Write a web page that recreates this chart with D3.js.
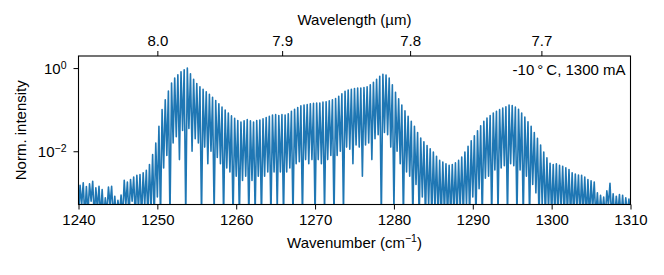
<!DOCTYPE html>
<html><head><meta charset="utf-8">
<script src="https://cdn.jsdelivr.net/npm/d3@7/dist/d3.min.js"></script>
<style>
body{margin:0;background:#fff}
text{font-family:"Liberation Sans",Arial,Helvetica,sans-serif;fill:#000}
</style>
</head><body>
<svg id="chart" width="664" height="275"></svg>
<script>
// ---- data ----
// wavenumber grid: minima between modes at 1240 + 0.4*i, mode peaks half way between
const gridStart = 1240.0;
const modeStep = 0.4;
// log10 of normalized intensity at each mode peak (1240.2, 1240.6, ...)
const peakLog = [
 -2.82,-2.76,-2.85,-2.78,-2.72,-2.88,-2.84,-2.92,-3.12,-2.86,
 -2.84,-3.08,-3.18,-3.05,-2.70,-2.74,-2.68,-2.62,-2.58,-2.56,
 -2.52,-2.46,-2.32,-2.08,-1.80,-1.40,-1.00,-0.76,-0.55,-0.36,
 -0.24,-0.16,-0.09,-0.04, 0.00,-0.14,-0.27,-0.37,-0.45,-0.51,
 -0.57,-0.63,-0.70,-0.78,-0.86,-0.94,-1.01,-1.08,-1.15,-1.21,
 -1.26,-1.30,-1.27,-1.24,-1.27,-1.30,-1.26,-1.25,-1.22,-1.19,
 -1.16,-1.13,-1.12,-1.14,-1.12,-1.13,-1.10,-1.04,-0.99,-0.95,
 -0.91,-0.89,-0.88,-0.86,-0.85,-0.84,-0.84,-0.82,-0.81,-0.79,
 -0.76,-0.73,-0.68,-0.62,-0.56,-0.53,-0.51,-0.49,-0.48,-0.48,
 -0.47,-0.45,-0.40,-0.34,-0.27,-0.20,-0.15,-0.17,-0.24,-0.40,
 -0.58,-0.74,-0.89,-1.03,-1.16,-1.28,-1.40,-1.55,-1.68,-1.77,
 -1.86,-1.94,-2.02,-2.12,-2.22,-2.26,-2.30,-2.34,-2.32,-2.28,
 -2.22,-2.14,-2.02,-1.88,-1.75,-1.63,-1.51,-1.39,-1.28,-1.20,
 -1.14,-1.08,-1.04,-1.00,-0.96,-0.93,-0.89,-0.90,-0.94,-0.99,
 -1.08,-1.18,-1.29,-1.40,-1.55,-1.69,-1.85,-2.02,-2.16,-2.29,
 -2.32,-2.30,-2.34,-2.36,-2.40,-2.44,-2.52,-2.55,-2.57,-2.58,
 -2.62,-2.68,-2.71,-2.74,-3.00,-3.06,-3.10,-2.95,-2.77,-3.02,
 -3.08,-3.04,-3.06,-3.12,-3.15
];
// log10 of normalized intensity at the minima between modes (1240.0, 1240.4, ...)
const troughLog = [
 -3.6,-3.3,-3.6,-3.5,-3.2,-3.6,-3.4,-3.6,-3.6,-3.5,
 -3.3,-3.6,-3.6,-3.5,-3.6,-3.3,-3.6,-3.2,-3.6,-3.4,
 -3.6,-3.3,-3.6,-3.4,-3.6,-3.1,-3.6,-2.4,-2.1,-3.6,
 -1.8,-1.65,-2.2,-1.5,-3.6,-1.45,-2.0,-1.7,-1.8,-3.6,
 -1.9,-2.3,-2.0,-3.5,-2.15,-2.3,-3.6,-2.4,-2.5,-3.6,
 -2.6,-3.6,-2.7,-2.6,-3.6,-2.7,-3.5,-2.6,-3.6,-2.6,
 -2.5,-3.6,-2.5,-3.4,-2.5,-3.6,-2.5,-2.4,-3.6,-2.3,
 -2.25,-3.6,-2.2,-2.3,-2.2,-3.6,-2.2,-2.3,-3.5,-2.2,
 -2.1,-3.6,-2.1,-2.0,-3.5,-1.9,-1.95,-2.3,-1.85,-1.9,
 -2.6,-1.85,-1.8,-2.2,-1.7,-1.6,-3.6,-1.55,-1.6,-1.9,
 -3.4,-2.0,-2.3,-3.6,-2.5,-2.6,-3.6,-2.8,-3.6,-3.1,
 -3.6,-3.3,-3.6,-3.4,-3.6,-3.6,-3.5,-3.6,-3.6,-3.5,
 -3.6,-3.4,-3.6,-3.3,-3.6,-3.1,-3.6,-2.9,-3.6,-2.65,
 -2.6,-3.6,-2.45,-3.5,-2.4,-2.35,-3.6,-2.3,-2.35,-3.6,
 -2.45,-3.6,-2.6,-3.6,-2.8,-3.0,-3.6,-3.3,-3.6,-3.4,
 -3.6,-3.5,-3.6,-3.4,-3.6,-3.5,-3.6,-3.6,-3.4,-3.6,
 -3.5,-3.6,-3.6,-3.4,-3.6,-3.6,-3.5,-3.6,-3.3,-3.6,
 -3.6,-3.5,-3.6,-3.6,-3.5,-3.6
];
const xTicks = [1240,1250,1260,1270,1280,1290,1300,1310];
const wavelengthTicks = [8.0,7.9,7.8,7.7];
const yTickExps = [0,-2];
const xDomain = [1240,1310];
const yDomain = [Math.pow(10,-3.28), Math.pow(10,0.29)];
const annotation = "-10\u2009\u00B0\u2009C, 1300 mA";

// ---- layout ----
const L = 78.5, R = 630.5, T = 56, B = 204.5;
const svg = d3.select("#chart");
const x = d3.scaleLinear().domain(xDomain).range([L,R]);
const y = d3.scaleLog().domain(yDomain).range([B,T]);

const pts = [];
for (let i = 0; i < troughLog.length; i++) {
  pts.push({k: gridStart + modeStep*i, v: Math.pow(10, troughLog[i])});
  if (i < peakLog.length) pts.push({k: gridStart + modeStep*i + modeStep/2, v: Math.pow(10, peakLog[i])});
}

svg.append("clipPath").attr("id","clip").append("rect")
  .attr("x",L).attr("y",T).attr("width",R-L).attr("height",B-T);

svg.append("path").datum(pts)
  .attr("clip-path","url(#clip)")
  .attr("fill","none").attr("stroke","#1f77b4").attr("stroke-width",1.6)
  .attr("stroke-linejoin","round")
  .attr("d", d3.line().x(d=>x(d.k)).y(d=>y(d.v)));

const FS = 15;
// bottom axis
const gx = svg.append("g").attr("transform",`translate(0,${B})`)
  .call(d3.axisBottom(x).tickValues(xTicks).tickFormat(d3.format("d")).tickSize(5).tickPadding(5).tickSizeOuter(0));
// top axis (wavelength in µm)
const gt = svg.append("g").attr("transform",`translate(0,${T})`)
  .call(d3.axisTop(x).tickValues(wavelengthTicks.map(w=>1e4/w))
    .tickFormat((d,i)=>wavelengthTicks[i].toFixed(1)).tickSize(5).tickPadding(5).tickSizeOuter(0));
// left axis
const gy = svg.append("g").attr("transform",`translate(${L},0)`)
  .call(d3.axisLeft(y).tickValues(yTickExps.map(e=>Math.pow(10,e))).tickFormat("").tickSize(5).tickSizeOuter(0));

[gx,gt,gy].forEach(g=>{
  g.selectAll(".domain").remove();
  g.selectAll(".tick line").attr("stroke","#000").attr("stroke-width",1);
  g.selectAll("text").attr("font-size",FS).attr("font-family","Liberation Sans, Arial, sans-serif").attr("fill","#000");
});

// y tick labels with superscripts
gy.selectAll(".tick").each(function(d,i){
  const e = yTickExps[i];
  const t = d3.select(this).append("text").attr("x",-12).attr("dy","0.38em")
    .attr("text-anchor","end").attr("font-size",FS).attr("fill","#000");
  t.append("tspan").text("10");
  t.append("tspan").attr("font-size",FS*0.7).attr("dy","-0.55em")
    .text(e < 0 ? "\u2212" + Math.abs(e) : String(e));
});

// frame
svg.append("rect").attr("x",L).attr("y",T).attr("width",R-L).attr("height",B-T)
  .attr("fill","none").attr("stroke","#000").attr("stroke-width",1.1);

// axis labels
const xl = svg.append("text").attr("x",(L+R)/2).attr("y",248).attr("text-anchor","middle").attr("font-size",FS);
xl.append("tspan").text("Wavenumber (cm");
xl.append("tspan").attr("font-size",FS*0.7).attr("dy","-0.55em").text("\u22121");
xl.append("tspan").attr("dy","0.385em").text(")");

svg.append("text").attr("x",(L+R)/2).attr("y",25).attr("text-anchor","middle").attr("font-size",FS)
  .text("Wavelength (\u00B5m)");

svg.append("text").attr("transform",`translate(26,${(T+B)/2}) rotate(-90)`)
  .attr("text-anchor","middle").attr("font-size",FS).text("Norm. intensity");

svg.append("text").attr("x",R-5).attr("y",75).attr("text-anchor","end").attr("font-size",FS)
  .text(annotation);
</script>
</body></html>
